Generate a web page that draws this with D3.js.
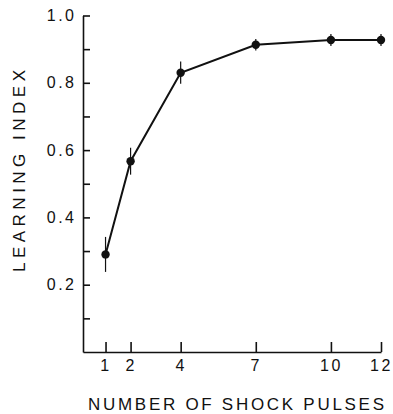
<!DOCTYPE html>
<html>
  <head>
    <script src="https://d3js.org/d3.v7.min.js"></script>
    <style>
body { margin: 0; background: #fff; }
text { font-family: "Liberation Sans", Arial, sans-serif; fill: #111; }
    </style>
  </head>
  <body>
    <script>
// number of shock pulses vs learning index
var pulses = [1, 2, 4, 7, 10, 12];
var learning = [0.29, 0.567, 0.83, 0.913, 0.927, 0.927];
var errs = [0.052, 0.040, 0.033, 0.017, 0.018, 0.018];
var yTicks = [0.1, 0.2, 0.3, 0.4, 0.5, 0.6, 0.7, 0.8, 0.9, 1.0];
var yLabels = [0.2, 0.4, 0.6, 0.8, 1.0];

var svg = d3.select("body").append("svg").attr("width", 393).attr("height", 414);

var x = d3.scaleLinear().domain([0.1, 12]).range([83, 381]);
var y = d3.scaleLinear().domain([0, 1]).range([352, 15.5]);

var yAxis = svg.append("g").attr("transform", "translate(83,0)")
	.call(d3.axisLeft(y).tickValues(yTicks).tickSizeInner(-7).tickSizeOuter(0).tickPadding(9)
		.tickFormat(function (d) {
			return yLabels.some(function (v) { return Math.abs(v - d) < 1e-9; }) ? d.toFixed(1) : "";
		}));

var xAxis = svg.append("g").attr("transform", "translate(0,352)")
	.call(d3.axisBottom(x).tickValues(pulses).tickSizeInner(-10).tickSizeOuter(0).tickPadding(8)
		.tickFormat(d3.format("d")));

svg.selectAll(".domain, .tick line").attr("stroke", "#111").attr("stroke-width", 1.6);
svg.selectAll(".tick text").style("font-size", "16px").style("letter-spacing", "2.5px").attr("fill", "#111");
yAxis.selectAll(".tick text").attr("dx", "2.5px");

// error bars
svg.selectAll("line.err").data(pulses).enter().append("line")
	.attr("class", "err")
	.attr("x1", function (d) { return x(d); })
	.attr("x2", function (d) { return x(d); })
	.attr("y1", function (d, i) { return y(learning[i] + errs[i]); })
	.attr("y2", function (d, i) { return y(learning[i] - errs[i]); })
	.attr("stroke", "#111").attr("stroke-width", 1.2);

var line = d3.line()
	.x(function (d) { return x(d); })
	.y(function (d, i) { return y(learning[i]); });

svg.append("path").datum(pulses).attr("d", line)
	.attr("fill", "none").attr("stroke", "#111").attr("stroke-width", 2);

svg.selectAll("circle").data(pulses).enter().append("circle")
	.attr("cx", function (d) { return x(d); })
	.attr("cy", function (d, i) { return y(learning[i]); })
	.attr("r", 4.2).attr("fill", "#111");

svg.append("text")
	.attr("x", 384).attr("y", 410)
	.attr("text-anchor", "end")
	.style("font-size", "17px")
	.attr("textLength", 296).attr("lengthAdjust", "spacing")
	.text("NUMBER OF SHOCK PULSES");

svg.append("text")
	.attr("transform", "translate(25,272) rotate(-90)")
	.style("font-size", "17px")
	.attr("textLength", 202).attr("lengthAdjust", "spacing")
	.text("LEARNING INDEX");
    </script>
  </body>
</html>
